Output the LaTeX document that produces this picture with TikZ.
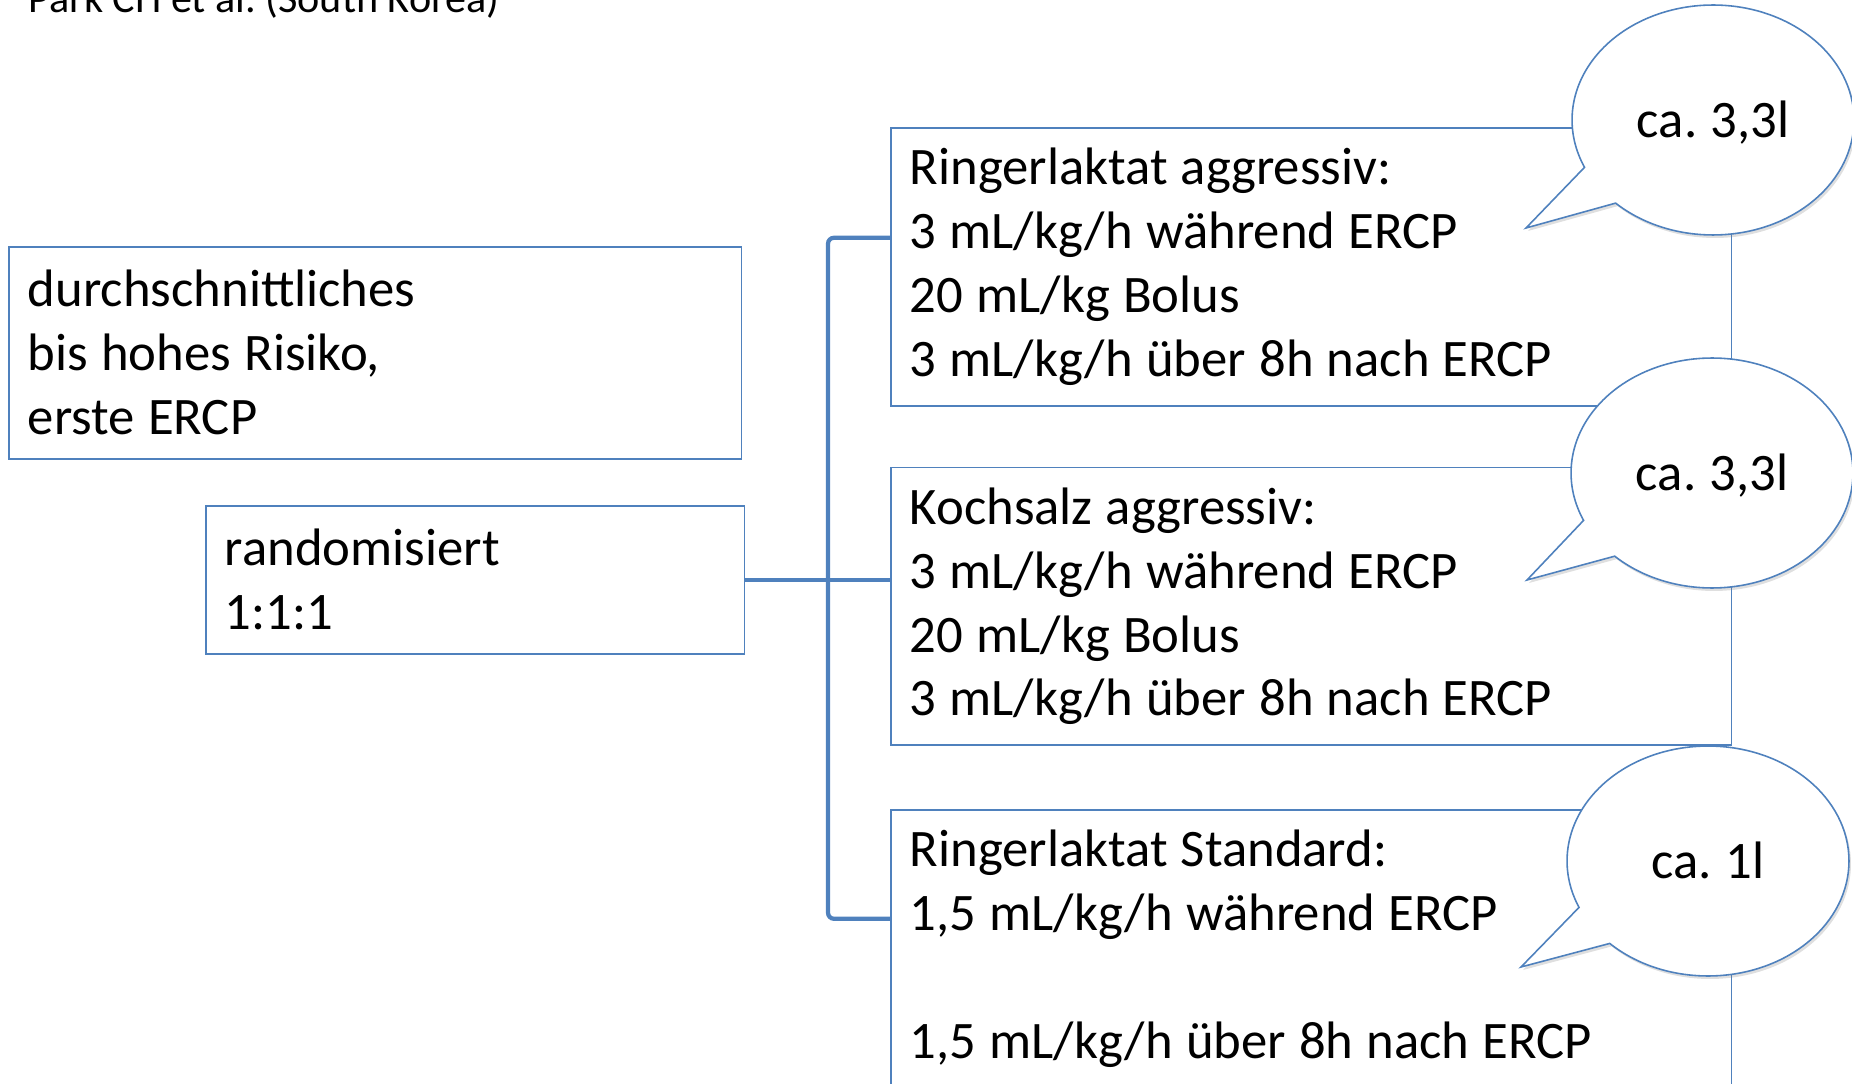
\documentclass[tikz,border=0pt]{standalone}
\usepackage{fontspec}
\setmainfont{Carlito}
\frenchspacing
\usetikzlibrary{positioning,shapes.callouts,shadows,calc}
\definecolor{cblau}{HTML}{4F81BD}
\tikzset{
  kasten/.style={rectangle, draw=cblau, line width=0.9pt, anchor=north west,
    align=left, inner xsep=0.38cm, inner ysep=0pt,
    font=\fontsize{30}{36.4}\selectfont,
    execute at begin node={\spaceskip=0.25em\relax}},
  klammer/.style={draw=cblau, line width=2.4pt, rounded corners=0.12cm},
  blase/.style={ellipse callout, draw=cblau, line width=0.9pt, fill=white,
    minimum width=5.64cm, minimum height=4.6cm, inner sep=0pt,
    text height=25pt, text depth=5pt,
    callout pointer arc=22, font=\fontsize{30}{36.4}\selectfont,
    execute at begin node={\spaceskip=0.25em\relax},
    drop shadow={opacity=0.25, shadow xshift=0.04cm, shadow yshift=-0.06cm}},
}

\begin{document}
\begin{tikzpicture}[x=0.02cm, y=-0.02cm]
  \useasboundingbox (0,0) rectangle (1852,1084);
  \node[anchor=base west, inner sep=0pt, font=\fontsize{24}{29}\selectfont] (park) at (28,13) {Park CH et al. (South Korea)};
  \node[kasten, text width=13.9cm, minimum height=4.24cm] (risiko) at (8,246) {durchschnittliches\\bis hohes Risiko,\\erste ERCP};
  \node[kasten, text width=10.02cm, minimum height=2.96cm] (rand) at (205,505) {randomisiert\\1:1:1};
  % drei Arme
  \node[kasten, text width=16.06cm, minimum height=5.56cm] (rlaggr) at (890,127) {Ringerlaktat aggressiv:\\3 mL/kg/h während ERCP\\20 mL/kg Bolus\\3 mL/kg/h über 8h nach ERCP};
  \node[kasten, text width=16.06cm, minimum height=5.56cm, below=1.2cm of rlaggr] (nacl) {Kochsalz aggressiv:\\3 mL/kg/h während ERCP\\20 mL/kg Bolus\\3 mL/kg/h über 8h nach ERCP};
  \node[kasten, text width=16.06cm, minimum height=5.56cm, below=1.26cm of nacl] (rlstd) {Ringerlaktat Standard:\\1,5 mL/kg/h während ERCP\\\mbox{}\\1,5 mL/kg/h über 8h nach ERCP};
  \coordinate (knick) at (828,580);
  \draw[klammer] ([yshift=0.58cm]rlaggr.west) -| (knick) |- ([yshift=0.6cm]rlstd.west);
  \draw[klammer] (rand.east) -- (nacl.west |- rand.east);
  % Mengen
  \node[blase, callout absolute pointer={(1526,228)}] (vol1) at (1713,120) {ca. 3,3l};
  \node[blase, callout absolute pointer={(1527,580)}] (vol2) at (1712,473) {ca. 3,3l};
  \node[blase, callout absolute pointer={(1521,967)}] (vol3) at (1708,861) {ca. 1l};
\end{tikzpicture}
\end{document}
